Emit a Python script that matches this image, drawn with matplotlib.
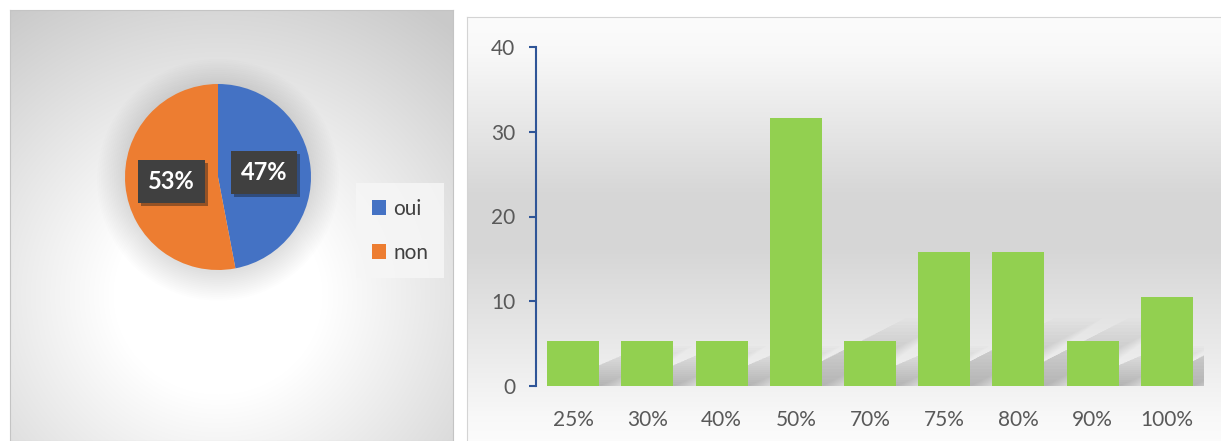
import numpy as np
import matplotlib
matplotlib.use("Agg")
import matplotlib.pyplot as plt
import matplotlib.patheffects as pe
from matplotlib.patches import Polygon

plt.rcParams['font.family'] = ['Lato', 'DejaVu Sans']

# donnees
pie_labels = ['oui', 'non']
pie_values = [47, 53]
pie_colors = ['#4472c4', '#ed7d31']

categories = ['25%', '30%', '40%', '50%', '70%', '75%', '80%', '90%', '100%']
values = [5.26, 5.26, 5.26, 31.58, 5.26, 15.79, 15.79, 5.26, 10.53]

W, H = 1221, 441
fig = plt.figure(figsize=(W / 100, H / 100), dpi=100)
fig.patch.set_facecolor('white')

def box(x0, y0, x1, y1):
    # pixels (origine en haut a gauche) -> fraction de figure
    return [x0 / W, (H - y1) / H, (x1 - x0) / W, (y1 - y0) / H]

# ---- panneau gauche : fond radial ----
bg1 = fig.add_axes(box(10, 10, 453, 441))
yy, xx = np.mgrid[10:441, 10:453]
d = np.hypot(xx - 218, (yy - 295) * 1.05)
g = 1 - np.clip((d - 105) / 260, 0, 1) * 0.21
bg1.imshow(np.dstack([g, g, g]), extent=[0, 1, 0, 1], aspect='auto')
bg1.set_xlim(0, 1)
bg1.set_ylim(0, 1)
bg1.set_xticks([])
bg1.set_yticks([])
for s in bg1.spines.values():
    s.set_color('#c4c4c4')

# ---- camembert ----
axp = fig.add_axes(box(218 - 93, 177 - 93, 218 + 93, 177 + 93))
axp.set_facecolor('none')
# ombre douce autour
for i in range(16):
    axp.add_patch(plt.Circle((0.0, -0.03), 1.0 + 0.02 * i, color='black',
                             alpha=0.006, lw=0, clip_on=False))
wedges, texts, autotexts = axp.pie(pie_values, colors=pie_colors, startangle=90,
                                   counterclock=False, autopct='%1.0f%%',
                                   pctdistance=0.5, radius=1,
                                   textprops=dict(color='white', fontsize=17,
                                                  fontweight='bold'))
for t in autotexts:
    t.set_bbox(dict(boxstyle='square,pad=0.42', facecolor='#404040',
                    edgecolor='none'))
    t.get_bbox_patch().set_path_effects([pe.SimplePatchShadow(offset=(2, -2), alpha=0.4),
                                         pe.Normal()])
axp.set_xlim(-1.0, 1.0)
axp.set_ylim(-1.0, 1.0)
axp.axis('off')

leg = fig.legend(wedges, pie_labels, loc='upper left',
                 bbox_to_anchor=(356 / W, (H - 183) / H),
                 frameon=True, fontsize=15, handlelength=0.7, handleheight=0.7,
                 handletextpad=0.35, labelspacing=1.15, borderpad=0.75,
                 borderaxespad=0, labelcolor='#404040', fancybox=False)
leg.get_frame().set_facecolor('#f6f6f6')
leg.get_frame().set_edgecolor('none')
leg.get_frame().set_alpha(0.85)

# ---- panneau droit : fond degrade vertical ----
bg2 = fig.add_axes(box(467, 17, 1221, 441))
ys = np.linspace(0, 1, 400)
gv = np.interp(ys, [0, 0.08, 0.42, 0.55, 0.82, 0.95, 1.0],
               [0.985, 0.975, 0.84, 0.84, 0.93, 0.975, 0.985])
bg2.imshow(np.dstack([np.tile(gv[:, None], (1, 10))] * 3), extent=[0, 1, 0, 1],
           aspect='auto')
bg2.set_xlim(0, 1)
bg2.set_ylim(0, 1)
bg2.set_xticks([])
bg2.set_yticks([])
for s in bg2.spines.values():
    s.set_color('#d4d4d4')
bg2.spines['right'].set_visible(False)
bg2.spines['bottom'].set_visible(False)

# ---- histogramme ----
ax = fig.add_axes(box(536, 47, 1204, 386))
ax.set_facecolor('none')
x = np.arange(len(categories))
# ombres portees floues vers l'arriere-droite
for xi, h in zip(x, values):
    top = min(0.9 * h, 8.0)
    for j in range(1, 21):
        t = j / 20
        ht = top * t
        sx = 0.16 * ht
        grow = 0.025 * j
        ax.add_patch(Polygon([(xi - 0.3, 0), (xi + 0.35 + grow, 0),
                              (xi + 0.35 + sx + grow, ht), (xi - 0.3 + sx + grow, ht)],
                             closed=True, facecolor='black', edgecolor='none',
                             alpha=0.011, zorder=1))
bars = ax.bar(x, values, width=0.7, color='#92d050', zorder=3)
ax.set_xlim(-0.5, len(categories) - 0.5)
ax.set_ylim(0, 40)
ax.set_yticks([0, 10, 20, 30, 40])
ax.set_xticks(x)
ax.set_xticklabels(categories)
for s in ['top', 'right', 'bottom']:
    ax.spines[s].set_visible(False)
ax.spines['left'].set_color('#2f5597')
ax.spines['left'].set_linewidth(1.5)
ax.tick_params(axis='y', colors='#2f5597', length=5, width=1.5, labelsize=15,
               labelcolor='#595959', pad=10)
ax.tick_params(axis='x', length=0, labelsize=15, labelcolor='#595959', pad=17)

fig.savefig('out.png', dpi=100)
